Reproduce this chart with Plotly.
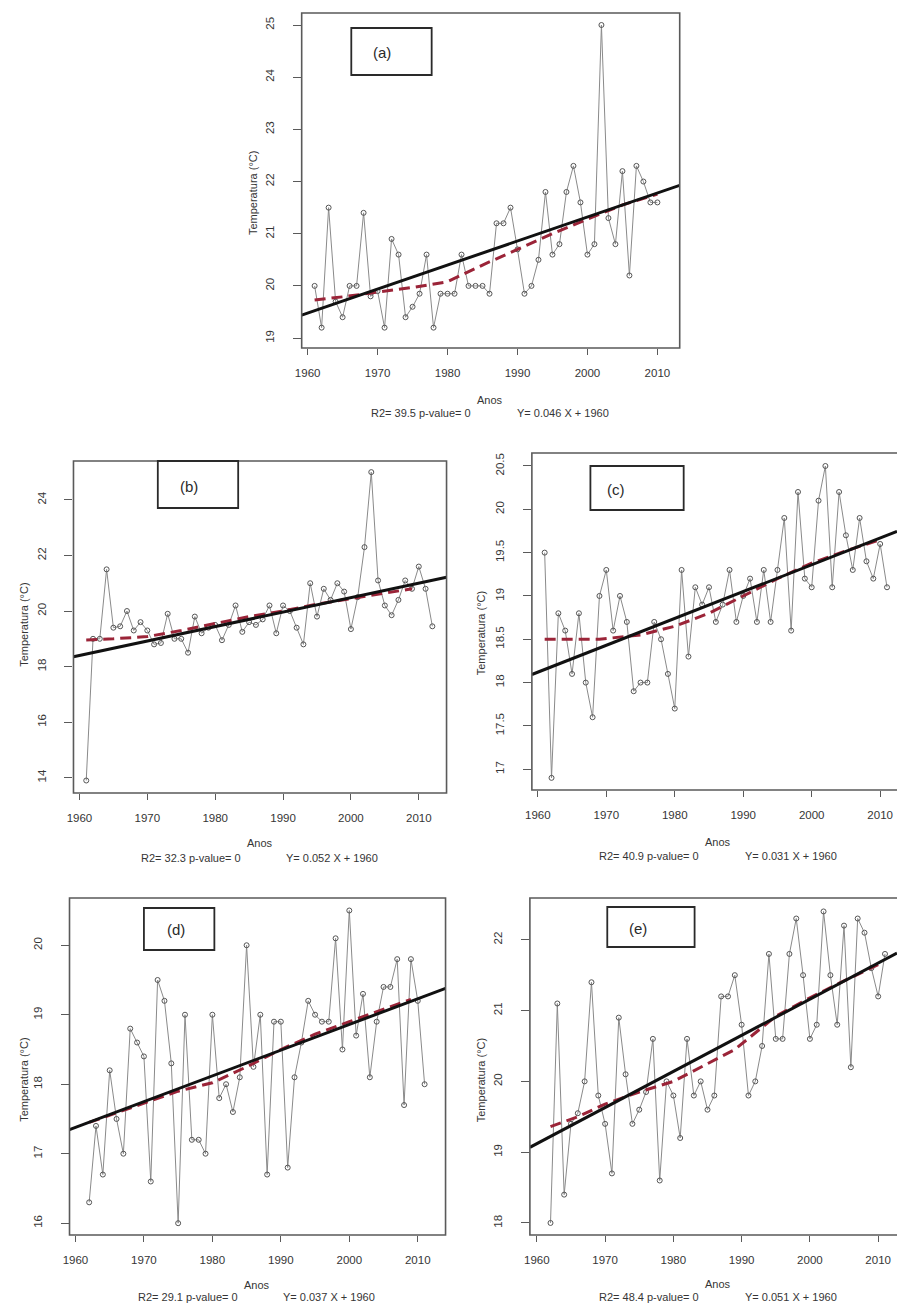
import plotly.graph_objects as go

W, H = 897, 1308

# ---------------- data ----------------
years_a = list(range(1961, 2011))
temp_a = [20.0, 19.2, 21.5, 19.7, 19.4, 20.0, 20.0, 21.4, 19.8, 19.9,
          19.2, 20.9, 20.6, 19.4, 19.6, 19.85, 20.6, 19.2, 19.85, 19.85,
          19.85, 20.6, 20.0, 20.0, 20.0, 19.85, 21.2, 21.2, 21.5, 20.7,
          19.85, 20.0, 20.5, 21.8, 20.6, 20.8, 21.8, 22.3, 21.6, 20.6,
          20.8, 25.0, 21.3, 20.8, 22.2, 20.2, 22.3, 22.0, 21.6, 21.6]

years_b = list(range(1961, 2013))
temp_b = [13.9, 19.0, 19.0, 21.5, 19.4, 19.45, 20.0, 19.3, 19.6, 19.3,
          18.8, 18.85, 19.9, 19.0, 19.0, 18.5, 19.8, 19.2, 19.4, 19.5,
          18.95, 19.5, 20.2, 19.25, 19.6, 19.5, 19.7, 20.2, 19.2, 20.2,
          20.0, 19.4, 18.8, 21.0, 19.8, 20.8, 20.4, 21.0, 20.7, 19.35,
          20.5, 22.3, 25.0, 21.1, 20.2, 19.85, 20.4, 21.1, 20.8, 21.6,
          20.8, 19.45]

years_c = list(range(1961, 2012))
temp_c = [19.5, 16.9, 18.8, 18.6, 18.1, 18.8, 18.0, 17.6, 19.0, 19.3,
          18.6, 19.0, 18.7, 17.9, 18.0, 18.0, 18.7, 18.5, 18.1, 17.7,
          19.3, 18.3, 19.1, 18.9, 19.1, 18.7, 18.9, 19.3, 18.7, 19.0,
          19.2, 18.7, 19.3, 18.7, 19.3, 19.9, 18.6, 20.2, 19.2, 19.1,
          20.1, 20.5, 19.1, 20.2, 19.7, 19.3, 19.9, 19.4, 19.2, 19.6,
          19.1]

years_d = list(range(1962, 2012))
temp_d = [16.3, 17.4, 16.7, 18.2, 17.5, 17.0, 18.8, 18.6, 18.4, 16.6,
          19.5, 19.2, 18.3, 16.0, 19.0, 17.2, 17.2, 17.0, 19.0, 17.8,
          18.0, 17.6, 18.1, 20.0, 18.25, 19.0, 16.7, 18.9, 18.9, 16.8,
          18.1, 18.6, 19.2, 19.0, 18.9, 18.9, 20.1, 18.5, 20.5, 18.7,
          19.3, 18.1, 18.9, 19.4, 19.4, 19.8, 17.7, 19.8, 19.2, 18.0]

years_e = list(range(1962, 2012))
temp_e = [18.0, 21.1, 18.4, 19.4, 19.55, 20.0, 21.4, 19.8, 19.4, 18.7,
          20.9, 20.1, 19.4, 19.6, 19.85, 20.6, 18.6, 20.0, 19.8, 19.2,
          20.6, 19.8, 20.0, 19.6, 19.8, 21.2, 21.2, 21.5, 20.8, 19.8,
          20.0, 20.5, 21.8, 20.6, 20.6, 21.8, 22.3, 21.5, 20.6, 20.8,
          22.4, 21.5, 20.8, 22.2, 20.2, 22.3, 22.1, 21.6, 21.2, 21.8]

# smoothed curves (red dashed)
smooth_years_a = [1961, 1965, 1970, 1975, 1980, 1985, 1990, 1995, 2000, 2005, 2010]
smooth_a = [19.73, 19.79, 19.88, 19.97, 20.08, 20.4, 20.7, 21.0, 21.28, 21.55, 21.76]
smooth_years_b = [1961, 1965, 1970, 1975, 1980, 1985, 1990, 1995, 2000, 2005, 2009]
smooth_b = [18.96, 19.0, 19.08, 19.3, 19.55, 19.8, 20.0, 20.25, 20.45, 20.65, 20.8]
smooth_years_c = [1961, 1969, 1975, 1980, 1985, 1990, 1995, 2000, 2005, 2010]
smooth_c = [18.5, 18.5, 18.55, 18.65, 18.8, 19.0, 19.2, 19.38, 19.52, 19.65]
smooth_years_d = [1962, 1970, 1975, 1980, 1985, 1990, 1995, 2000, 2005, 2009]
smooth_d = [17.45, 17.72, 17.9, 18.02, 18.25, 18.5, 18.72, 18.9, 19.08, 19.22]
smooth_years_e = [1962, 1966, 1970, 1975, 1980, 1985, 1989, 1995, 2000, 2005, 2010]
smooth_e = [19.36, 19.5, 19.68, 19.85, 20.0, 20.25, 20.45, 20.92, 21.18, 21.42, 21.65]

# linear trends: value at 1960 and slope per year
trend_base = [19.48, 18.40, 18.12, 17.38, 19.12]
trend_slope = [0.046, 0.052, 0.031, 0.037, 0.051]
r2_values = ["39.5", "32.3", "40.9", "29.1", "48.4"]
p_values = ["0", "0", "0", "0", "0"]
panel_tags = ["(a)", "(b)", "(c)", "(d)", "(e)"]

x_ticks = [1960, 1970, 1980, 1990, 2000, 2010]
y_ticks_a = [19, 20, 21, 22, 23, 24, 25]
y_ticks_b = [14, 16, 18, 20, 22, 24]
y_ticks_c = [17, 17.5, 18, 18.5, 19, 19.5, 20, 20.5]
y_ticks_d = [16, 17, 18, 19, 20]
y_ticks_e = [18, 19, 20, 21, 22]

# ---------------- layout geometry (pixels) ----------------
box_left = [297, 67, 529, 63, 527]
box_right = [678, 443, 897, 442, 897]
box_top = [13, 461, 453, 898, 898]
box_bottom = [348, 793, 790, 1235, 1235]
x_ranges = [[1959.15, 2013.19], [1959.12, 2014.09], [1959.13, 2012.46],
            [1959.13, 2014.06], [1958.98, 2012.76]]
y_ranges = [[18.81, 25.23], [13.45, 25.40], [16.76, 20.65],
            [15.83, 20.68], [17.83, 22.59]]
tag_box = [(347, 428, 28, 75), (152, 233, 461, 508), (588, 682, 466, 510),
           (138, 209, 908, 950), (605, 693, 907, 947)]
tag_pos = [(378, 52), (183, 486), (614, 489), (170, 930), (636, 928)]
ytitle_pos = [(248, 193), (17, 625), (478, 633), (17, 1080), (478, 1080)]
anos_y = [400, 843, 842, 1285, 1284]
sub_y = [413, 858, 856, 1297, 1297]
box_center = [487, 255, 717, 252, 717]


def fx(p):
    return p / W


def fy(p):
    return 1 - p / H


series_years = [years_a, years_b, years_c, years_d, years_e]
series_temp = [temp_a, temp_b, temp_c, temp_d, temp_e]
smooth_years = [smooth_years_a, smooth_years_b, smooth_years_c, smooth_years_d, smooth_years_e]
smooth_vals = [smooth_a, smooth_b, smooth_c, smooth_d, smooth_e]
y_ticks = [y_ticks_a, y_ticks_b, y_ticks_c, y_ticks_d, y_ticks_e]

TXT = "#353535"
AX = "#5a5a5a"
FONT = "Liberation Sans, Arial, sans-serif"

fig = go.Figure()
shapes = []
annotations = []
layout_axes = {}

for i in range(5):
    n = "" if i == 0 else str(i + 1)
    xa, ya = "x" + n, "y" + n

    # observed series
    fig.add_trace(go.Scatter(
        x=series_years[i], y=series_temp[i], xaxis=xa, yaxis=ya,
        mode="lines+markers",
        line=dict(color="#8a8a8a", width=1),
        marker=dict(symbol="circle-open", size=5, color="#555555", line=dict(width=1)),
        showlegend=False, hoverinfo="skip"))

    # smoothed curve
    fig.add_trace(go.Scatter(
        x=smooth_years[i], y=smooth_vals[i], xaxis=xa, yaxis=ya,
        mode="lines", line=dict(color="#9b2438", width=3, dash="11px,6px"),
        showlegend=False, hoverinfo="skip"))

    # linear trend across the whole axis
    x0, x1 = x_ranges[i]
    tx = [x0, x1]
    ty = [trend_base[i] + trend_slope[i] * (v - 1960) for v in tx]
    fig.add_trace(go.Scatter(
        x=tx, y=ty, xaxis=xa, yaxis=ya, mode="lines",
        line=dict(color="#111111", width=3),
        showlegend=False, hoverinfo="skip"))

    layout_axes["xaxis" + n] = dict(
        domain=[fx(box_left[i]), min(1.0, fx(box_right[i]))],
        range=x_ranges[i], anchor=ya,
        tickvals=x_ticks, ticktext=[str(t) for t in x_ticks],
        ticks="outside", ticklen=6, tickwidth=1.2, tickcolor=AX,
        ticklabelstandoff=8,
        tickfont=dict(family=FONT, size=11.5, color=TXT),
        showgrid=False, zeroline=False, showline=False)
    layout_axes["yaxis" + n] = dict(
        domain=[fy(box_bottom[i]), fy(box_top[i])],
        range=y_ranges[i], anchor=xa,
        tickvals=y_ticks[i], tickangle=-90,
        ticks="outside", ticklen=8, tickwidth=1.2, tickcolor=AX,
        ticklabelstandoff=14,
        tickfont=dict(family=FONT, size=11.5, color=TXT),
        showgrid=False, zeroline=False, showline=False)

    # plot frame
    shapes.append(dict(
        type="rect", xref=xa + " domain", yref=ya + " domain",
        x0=0, x1=1.0 if box_right[i] < W else 1.05, y0=0, y1=1,
        line=dict(color=AX, width=1.6), fillcolor="rgba(0,0,0,0)", layer="above"))

    # panel tag box
    l, r, t, b = tag_box[i]
    shapes.append(dict(
        type="rect", xref="paper", yref="paper",
        x0=fx(l), x1=fx(r), y0=fy(b), y1=fy(t),
        line=dict(color="#2a2a2a", width=1.8), fillcolor="white", layer="above"))
    annotations.append(dict(
        text=panel_tags[i], xref="paper", yref="paper",
        x=fx(tag_pos[i][0]), y=fy(tag_pos[i][1]), showarrow=False,
        xanchor="center", yanchor="middle",
        font=dict(family=FONT, size=15, color="#2a2a2a")))

    # axis titles
    annotations.append(dict(
        text="Temperatura (°C)", xref="paper", yref="paper",
        x=fx(ytitle_pos[i][0]), y=fy(ytitle_pos[i][1]), textangle=-90,
        showarrow=False, xanchor="center", yanchor="middle",
        font=dict(family=FONT, size=11, color=TXT)))
    annotations.append(dict(
        text="Anos", xref="paper", yref="paper",
        x=fx(box_center[i]), y=fy(anos_y[i]), showarrow=False,
        xanchor="center", yanchor="middle",
        font=dict(family=FONT, size=11, color=TXT)))
    annotations.append(dict(
        text=f"R2= {r2_values[i]} p-value= {p_values[i]}", xref="paper", yref="paper",
        x=fx(box_center[i] - 70), y=fy(sub_y[i]), showarrow=False,
        xanchor="center", yanchor="middle",
        font=dict(family=FONT, size=11, color=TXT)))
    annotations.append(dict(
        text=f"Y= {trend_slope[i]:.3f} X + 1960", xref="paper", yref="paper",
        x=fx(box_center[i] + 73), y=fy(sub_y[i]), showarrow=False,
        xanchor="center", yanchor="middle",
        font=dict(family=FONT, size=11, color=TXT)))

fig.update_layout(
    width=W, height=H,
    margin=dict(l=0, r=0, t=0, b=0),
    paper_bgcolor="white", plot_bgcolor="white",
    shapes=shapes, annotations=annotations,
    **layout_axes)

fig.write_html("out.html")
